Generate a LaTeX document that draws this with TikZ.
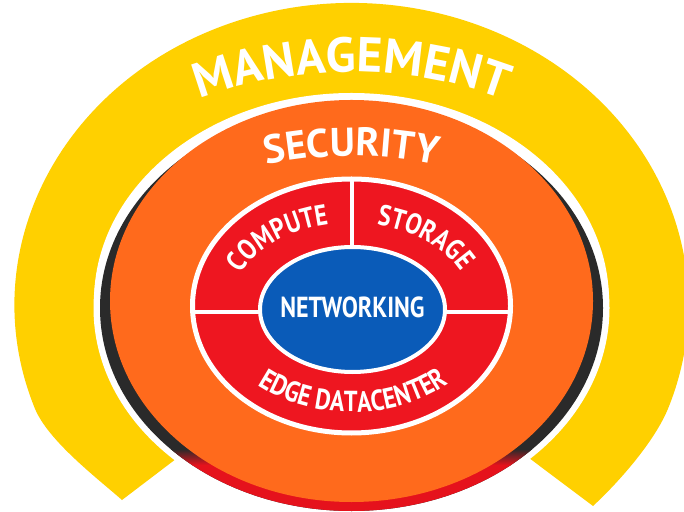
\documentclass[tikz,border=0pt]{standalone}
\usepackage{fontspec}
\setmainfont{PT Sans}
\newfontfamily\ringfont[FakeStretch=0.83]{PT Sans}
\usetikzlibrary{decorations.text}
\definecolor{myyellow}{HTML}{FFD000}
\definecolor{myorange}{HTML}{FF6A1C}
\definecolor{myred}{HTML}{EE1620}
\definecolor{myblue}{HTML}{0A5BB8}
\definecolor{mydark}{HTML}{2A2A2A}
\definecolor{shadowred}{HTML}{E5121C}
\newcommand{\fmgmt}{\fontsize{49}{51}\selectfont\bfseries\color{white}}
\newcommand{\fsec}{\fontsize{40}{42}\selectfont\bfseries\color{white}}
\newcommand{\fring}{\fontsize{29}{31}\selectfont\ringfont\bfseries\color{white}}
\begin{document}
\begin{tikzpicture}[x=1pt,y=1pt,
  ringtext/.style={decorate, decoration={text along path, text align=center}},
  divider/.style={white, line width=4pt}]
\useasboundingbox (0,0) rectangle (684,511);
% yellow management ring
\coordinate (ytipL) at (122,11);
\coordinate (ytipR) at (593,5);
\coordinate (yc) at (352,186);
\fill[myyellow] (yc) -- (ytipL) .. controls (97,33) and (48,70.3) .. (34.8,102.7)
  arc[start angle=200, end angle=-20, x radius=337, y radius=302]
  .. controls (655,70.3) and (620,30) .. (ytipR) -- cycle;
% white halo
\fill[white] (351.5,210) ellipse [x radius=257.5, y radius=208];
\fill[white] (351.5,203) ellipse [x radius=258, y radius=209];
% shadow (dark sides, red bottom)
\begin{scope}
  \clip (351.5,203) ellipse [x radius=251.5, y radius=203];
  \fill[mydark] (90,-10) rectangle (620,420);
  \fill[shadowred] (90,-10) rectangle (620,46);
  \shade[bottom color=shadowred, top color=mydark] (90,46) rectangle (620,62);
\end{scope}
% orange security disc
\fill[myorange] (351.5,210) ellipse [x radius=241.5, y radius=201];
% red ring
\coordinate (rc) at (351.5,205);
\filldraw[fill=myred, draw=white, line width=5pt] (rc) ellipse [x radius=159, y radius=127];
\coordinate (rtop) at (352,332);
\coordinate (rmid) at (352,205);
\coordinate (rleft) at (192.5,199);
\coordinate (rright) at (510.5,199);
\coordinate (bc) at (352.5,201.5);
\draw[divider] (rtop) -- (rmid);
\draw[divider] (rleft) -- (rright);
% blue networking
\filldraw[fill=myblue, draw=white, line width=4pt] (bc) ellipse [x radius=92.5, y radius=62.5];
\node[font=\fring, text=white, inner sep=0pt] (net) at (352.5,204) {NETWORKING};
% curved labels
\path[ringtext, decoration={text={|\fmgmt|MANAGEMENT}}]
  (351.5,210) ++(160:321 and 229) arc[start angle=160, end angle=20, x radius=321, y radius=229];
\path[ringtext, decoration={text={|\fsec|SECURITY}}]
  (351.5,210) ++(140:245 and 145) arc[start angle=140, end angle=40, x radius=245, y radius=145];
\path[ringtext, decoration={text={|\fring|COMPUTE}}]
  (rc) ++(178:120 and 83) arc[start angle=178, end angle=86, x radius=120, y radius=83];
\path[ringtext, decoration={text={|\fring|STORAGE}}]
  (rc) ++(94:120 and 83) arc[start angle=94, end angle=2, x radius=120, y radius=83];
\path[ringtext, decoration={text={|\fring|EDGE DATACENTER}}]
  (rc) ++(200:142 and 106) arc[start angle=200, end angle=342, x radius=142, y radius=106];
\end{tikzpicture}
\end{document}
